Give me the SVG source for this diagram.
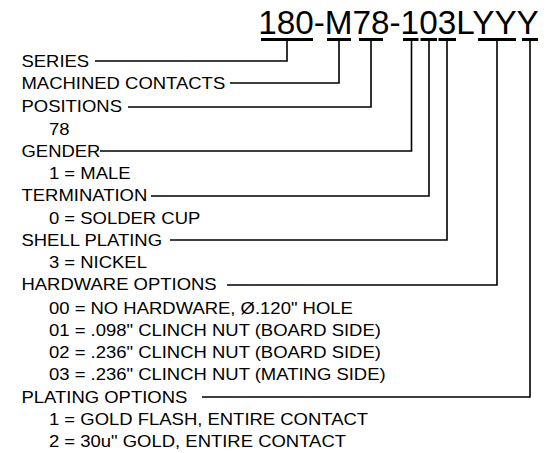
<svg xmlns="http://www.w3.org/2000/svg" width="558" height="453" viewBox="0 0 558 453">
<style>
text{font-family:"Liberation Sans",Arial,sans-serif;fill:#000}
.t{font-size:34px}
.l{font-size:16px}
.c{fill:none;stroke:#000;stroke-width:1.6}
.b{stroke:#000;stroke-width:3.2;fill:none}
</style>
<rect width="558" height="453" fill="#fff"/>
<g id="part-number">
<text class="t" x="258.2" y="34" textLength="280.6" lengthAdjust="spacingAndGlyphs">180-M78-103LYYY</text>
<path class="b" d="M261,39.5H313M327,39.5H351M359,39.5H383M403,39.5H418.5M420.5,39.5H437M438.5,39.5H456M478,39.5H516M522,39.5H538"/>
</g>
<g id="connectors">
<path class="c" d="M95,61H287V39.5"/>
<path class="c" d="M230,83H339V39.5"/>
<path class="c" d="M128,107H371V39.5"/>
<path class="c" d="M100,151H411.5V39.5"/>
<path class="c" d="M151,196H429V39.5"/>
<path class="c" d="M170,240H447V39.5"/>
<path class="c" d="M227,285H497V39.5"/>
<path class="c" d="M202,397H530V39.5"/>
</g>
<g transform="scale(1.155,1)">
<g id="series"><text class="l" x="18.6" y="67">SERIES</text></g>
<g id="machined-contacts"><text class="l" x="18.6" y="89.5">MACHINED CONTACTS</text></g>
<g id="positions"><text class="l" x="18.6" y="112.5">POSITIONS</text><text class="l" x="42.4" y="135">78</text></g>
<g id="gender"><text class="l" x="18.6" y="157">GENDER</text><text class="l" x="42.4" y="179.5">1 = MALE</text></g>
<g id="termination"><text class="l" x="18.6" y="201.5">TERMINATION</text><text class="l" x="42.4" y="224">0 = SOLDER CUP</text></g>
<g id="shell-plating"><text class="l" x="18.6" y="246">SHELL PLATING</text><text class="l" x="42.4" y="268.5">3 = NICKEL</text></g>
<g id="hardware-options"><text class="l" x="18.6" y="290.5">HARDWARE OPTIONS</text>
<text class="l" x="42.4" y="314">00 = NO HARDWARE, Ø.120" HOLE</text>
<text class="l" x="42.4" y="336.5">01 = .098" CLINCH NUT (BOARD SIDE)</text>
<text class="l" x="42.4" y="358.5">02 = .236" CLINCH NUT (BOARD SIDE)</text>
<text class="l" x="42.4" y="380.5">03 = .236" CLINCH NUT (MATING SIDE)</text></g>
<g id="plating-options"><text class="l" x="18.6" y="403">PLATING OPTIONS</text>
<text class="l" x="42.4" y="425">1 = GOLD FLASH, ENTIRE CONTACT</text>
<text class="l" x="42.4" y="447">2 = 30u" GOLD, ENTIRE CONTACT</text></g>
</g>
</svg>
